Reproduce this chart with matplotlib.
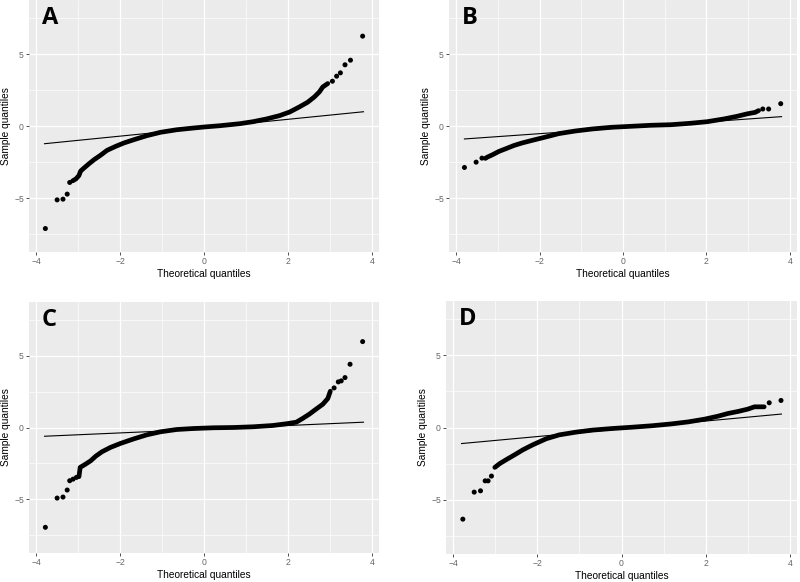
import matplotlib.pyplot as plt
from matplotlib.ticker import MultipleLocator

plt.rcParams['font.family'] = ['Liberation Sans', 'DejaVu Sans']
plt.rcParams['axes.unicode_minus'] = True

# panel A: isolated tail points and the dense body of the curve
a_tail_x = [-3.78, -3.50, -3.36, -3.26, -3.20, 3.06, 3.16, 3.25, 3.36, 3.49, 3.78]
a_tail_y = [-7.12, -5.13, -5.08, -4.73, -3.92, 3.11, 3.46, 3.69, 4.25, 4.57, 6.24]
a_body_x = [-3.13, -3.05, -2.98, -2.94, -2.86, -2.74, -2.62, -2.46, -2.31, -2.11, -1.91,
            -1.67, -1.36, -1.04, -0.65, -0.25, 0.0, 0.38, 0.85, 1.17, 1.49, 1.80, 2.04,
            2.27, 2.47, 2.63, 2.75, 2.83, 2.95]
a_body_y = [-3.81, -3.67, -3.44, -3.13, -2.92, -2.62, -2.34, -2.02, -1.69, -1.42, -1.18,
            -0.95, -0.67, -0.44, -0.26, -0.14, -0.07, 0.02, 0.16, 0.30, 0.49, 0.72, 0.97,
            1.32, 1.65, 2.02, 2.37, 2.71, 2.95]
a_line_y = [-1.23, 0.99]

# panel B
b_tail_x = [-3.80, -3.52, -3.38, 3.35, 3.49, 3.78]
b_tail_y = [-2.88, -2.51, -2.23, 1.18, 1.18, 1.55]
b_body_x = [-3.30, -3.25, -3.13, -2.97, -2.81, -2.61, -2.42, -2.18, -1.86, -1.54, -1.15,
            -0.75, -0.28, 0.20, 0.67, 1.15, 1.62, 2.02, 2.42, 2.73, 2.97, 3.17, 3.25]
b_body_y = [-2.25, -2.16, -2.00, -1.76, -1.58, -1.35, -1.18, -1.00, -0.77, -0.53, -0.35,
            -0.21, -0.09, -0.02, 0.05, 0.09, 0.19, 0.30, 0.49, 0.67, 0.84, 0.95, 1.07]
b_line_y = [-0.90, 0.65]

# panel C
c_tail_x = [-3.78, -3.50, -3.36, -3.26, -3.20, -3.12, -3.04, 3.10, 3.20, 3.27, 3.36, 3.48, 3.78]
c_tail_y = [-6.96, -4.92, -4.85, -4.36, -3.71, -3.60, -3.48, 2.76, 3.18, 3.25, 3.48, 4.41, 5.99]
c_body_x = [-2.98, -2.95, -2.82, -2.70, -2.58, -2.43, -2.23, -1.99, -1.67, -1.36, -1.04,
            -0.65, -0.25, 0.22, 0.70, 1.17, 1.64, 1.96, 2.20, 2.35, 2.51, 2.67, 2.83,
            2.95, 3.01]
c_body_y = [-3.43, -2.78, -2.55, -2.32, -2.00, -1.69, -1.39, -1.11, -0.79, -0.51, -0.30,
            -0.14, -0.07, -0.02, 0.00, 0.05, 0.14, 0.26, 0.37, 0.63, 0.93, 1.28, 1.62,
            2.02, 2.53]
c_line_y = [-0.61, 0.37]

# panel D
d_tail_x = [-3.77, -3.50, -3.35, -3.24, -3.17, -3.09, 3.51, 3.79]
d_tail_y = [-6.34, -4.47, -4.38, -3.69, -3.69, -3.36, 1.71, 1.87]
d_body_x = [-3.01, -2.89, -2.73, -2.54, -2.34, -2.11, -1.79, -1.48, -1.08, -0.69, -0.22,
            0.25, 0.72, 1.19, 1.59, 1.98, 2.29, 2.53, 2.77, 3.00, 3.16, 3.28, 3.39]
d_body_y = [-2.76, -2.49, -2.21, -1.89, -1.54, -1.20, -0.78, -0.51, -0.32, -0.18, -0.07,
            0.02, 0.12, 0.25, 0.39, 0.58, 0.78, 0.97, 1.11, 1.27, 1.43, 1.43, 1.43]
d_line_y = [-1.11, 0.93]

line_x = [-3.8, 3.8]

panels = [
    ('A', [29, 0, 350, 252], a_tail_x, a_tail_y, a_body_x, a_body_y, a_line_y),
    ('B', [449, 0, 348, 252], b_tail_x, b_tail_y, b_body_x, b_body_y, b_line_y),
    ('C', [29, 302, 350, 251], c_tail_x, c_tail_y, c_body_x, c_body_y, c_line_y),
    ('D', [446, 301, 351, 253], d_tail_x, d_tail_y, d_body_x, d_body_y, d_line_y),
]

W, H = 800, 582
fig = plt.figure(figsize=(8, 5.82), dpi=100)

for label, (px, py, pw, ph), tx, ty, bx, by, ly in panels:
    ax = fig.add_axes([px / W, (H - py - ph) / H, pw / W, ph / H])
    ax.set_facecolor('#EBEBEB')
    for s in ax.spines.values():
        s.set_visible(False)
    ax.set_xlim(-4.17, 4.17)
    ax.set_ylim(-8.75, 8.75)
    ax.xaxis.set_major_locator(MultipleLocator(2))
    ax.xaxis.set_minor_locator(MultipleLocator(1))
    ax.yaxis.set_major_locator(MultipleLocator(5))
    ax.yaxis.set_minor_locator(MultipleLocator(2.5))
    ax.grid(which='major', color='white', lw=0.9)
    ax.grid(which='minor', color='white', lw=0.45)
    ax.set_axisbelow(True)
    ax.tick_params(which='major', length=2.2, width=0.6, color='#333333',
                   labelsize=6.2, labelcolor='#666666', pad=1.5)
    ax.tick_params(which='minor', length=0)

    ax.plot(line_x, ly, color='black', lw=0.8, zorder=2)
    ax.plot(bx, by, color='black', lw=3.4, solid_capstyle='round',
            solid_joinstyle='round', zorder=3)
    ax.scatter(tx, ty, s=13, color='black', edgecolors='none', zorder=3)

    ax.set_xlabel('Theoretical quantiles', fontsize=7.3, labelpad=2)
    ax.set_ylabel('Sample quantiles', fontsize=7.3, labelpad=2)
    ax.text(0.037, 0.975, label, transform=ax.transAxes, fontsize=17,
            fontweight='bold', family='Open Sans', va='top', ha='left')

fig.savefig('out.png', dpi=100)
